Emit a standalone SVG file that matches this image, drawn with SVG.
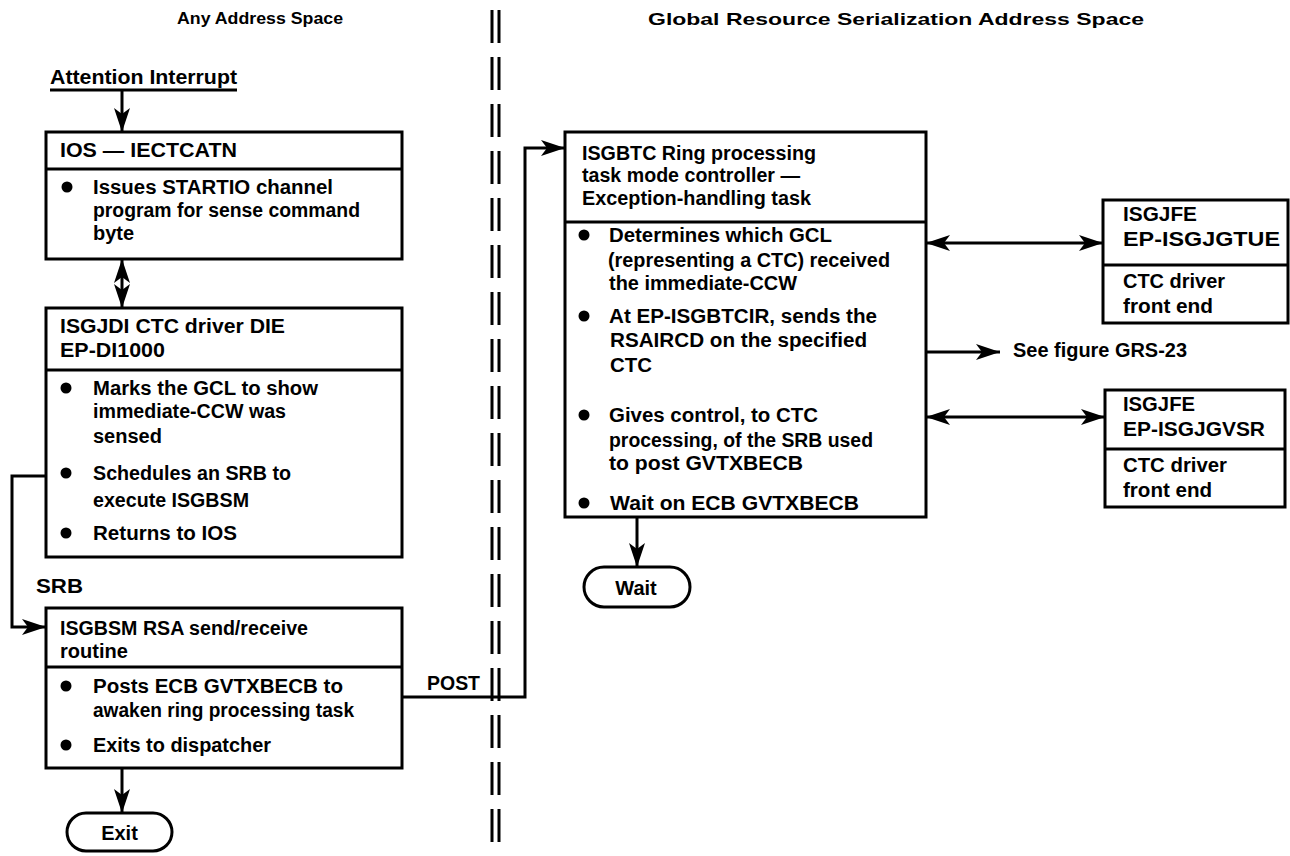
<svg xmlns="http://www.w3.org/2000/svg" width="1290" height="856" viewBox="0 0 1290 856">
  <style>
    text { font-family: "Liberation Sans", Arial, sans-serif; font-weight: bold; fill: #000; }
    .t { font-size: 20px; }
    .title { font-size: 17px; }
    .box { fill: #fff; stroke: #000; stroke-width: 3; }
    .rule { stroke: #000; stroke-width: 3; }
    .line { fill: none; stroke: #000; stroke-width: 3; }
    .dash { stroke: #000; stroke-width: 3; stroke-dasharray: 33 14; }
    .dot { fill: #000; }
  </style>
  <defs>
    <marker id="arrow" markerUnits="userSpaceOnUse" markerWidth="26" markerHeight="18" refX="24" refY="8" orient="auto-start-reverse">
      <path d="M0,0 L24,8 L0,16 L6,8 Z" fill="#000"/>
    </marker>
  </defs>

  <rect width="1290" height="856" fill="#fff"/>

  <!-- column headings and the address-space boundary -->
  <g id="headings">
    <text class="title" x="177" y="24" textLength="166" lengthAdjust="spacingAndGlyphs">Any Address Space</text>
    <text class="title" x="648" y="25" textLength="496" lengthAdjust="spacingAndGlyphs">Global Resource Serialization Address Space</text>
  </g>
  <g id="boundary">
    <line class="dash" x1="492" y1="10" x2="492" y2="852"/>
    <line class="dash" x1="499" y1="10" x2="499" y2="852"/>
  </g>

  <!-- connectors -->
  <g id="connectors">
    <line class="line" x1="50" y1="90" x2="237" y2="90"/>
    <line class="line" x1="122" y1="90" x2="122" y2="132" marker-end="url(#arrow)"/>
    <line class="line" x1="122" y1="259" x2="122" y2="308" marker-start="url(#arrow)" marker-end="url(#arrow)"/>
    <path class="line" d="M46,476 H12 V627 H46" marker-end="url(#arrow)"/>
    <line class="line" x1="122" y1="768" x2="122" y2="813" marker-end="url(#arrow)"/>
    <path class="line" d="M402,697 H525 V148 H565" marker-end="url(#arrow)"/>
    <line class="line" x1="637" y1="517" x2="637" y2="567" marker-end="url(#arrow)"/>
    <line class="line" x1="926" y1="243" x2="1103" y2="243" marker-start="url(#arrow)" marker-end="url(#arrow)"/>
    <line class="line" x1="926" y1="352" x2="1000" y2="352" marker-end="url(#arrow)"/>
    <line class="line" x1="926" y1="417" x2="1105" y2="417" marker-start="url(#arrow)" marker-end="url(#arrow)"/>
  </g>

  <!-- connector labels -->
  <g id="labels">
    <text class="t" x="50" y="84" textLength="187" lengthAdjust="spacingAndGlyphs">Attention Interrupt</text>
    <text class="t" x="36" y="593" textLength="47" lengthAdjust="spacingAndGlyphs">SRB</text>
    <text class="t" x="427" y="690" textLength="53" lengthAdjust="spacingAndGlyphs">POST</text>
    <text class="t" x="1013" y="357" textLength="174" lengthAdjust="spacingAndGlyphs">See figure GRS-23</text>
  </g>

  <!-- IOS attention handler -->
  <g id="ios">
    <rect class="box" x="46" y="132" width="356" height="127"/>
    <line class="rule" x1="46" y1="169" x2="402" y2="169"/>
    <text class="t" x="60" y="157" textLength="177" lengthAdjust="spacingAndGlyphs">IOS — IECTCATN</text>
    <circle class="dot" cx="67" cy="187" r="5.5"/>
    <text class="t" x="93" y="194" textLength="240" lengthAdjust="spacingAndGlyphs">Issues STARTIO channel</text>
    <text class="t" x="93" y="217" textLength="267" lengthAdjust="spacingAndGlyphs">program for sense command</text>
    <text class="t" x="93" y="240">byte</text>
  </g>

  <!-- CTC driver DIE -->
  <g id="isgjdi">
    <rect class="box" x="46" y="308" width="356" height="249"/>
    <line class="rule" x1="46" y1="370" x2="402" y2="370"/>
    <text class="t" x="60" y="333" textLength="225" lengthAdjust="spacingAndGlyphs">ISGJDI CTC driver DIE</text>
    <text class="t" x="60" y="357" textLength="105" lengthAdjust="spacingAndGlyphs">EP-DI1000</text>
    <circle class="dot" cx="66" cy="388" r="5.5"/>
    <text class="t" x="93" y="395" textLength="225" lengthAdjust="spacingAndGlyphs">Marks the GCL to show</text>
    <text class="t" x="93" y="418" textLength="193" lengthAdjust="spacingAndGlyphs">immediate-CCW was</text>
    <text class="t" x="93" y="443">sensed</text>
    <circle class="dot" cx="66" cy="473" r="5.5"/>
    <text class="t" x="93" y="480" textLength="198" lengthAdjust="spacingAndGlyphs">Schedules an SRB to</text>
    <text class="t" x="93" y="507" textLength="156" lengthAdjust="spacingAndGlyphs">execute ISGBSM</text>
    <circle class="dot" cx="66" cy="533" r="5.5"/>
    <text class="t" x="93" y="540" textLength="144" lengthAdjust="spacingAndGlyphs">Returns to IOS</text>
  </g>

  <!-- RSA send/receive routine -->
  <g id="isgbsm">
    <rect class="box" x="46" y="608" width="356" height="160"/>
    <line class="rule" x1="46" y1="667" x2="402" y2="667"/>
    <text class="t" x="60" y="635" textLength="248" lengthAdjust="spacingAndGlyphs">ISGBSM RSA send/receive</text>
    <text class="t" x="60" y="658">routine</text>
    <circle class="dot" cx="66" cy="686" r="5.5"/>
    <text class="t" x="93" y="693" textLength="250" lengthAdjust="spacingAndGlyphs">Posts ECB GVTXBECB to</text>
    <text class="t" x="93" y="717" textLength="261" lengthAdjust="spacingAndGlyphs">awaken ring processing task</text>
    <circle class="dot" cx="66" cy="745" r="5.5"/>
    <text class="t" x="93" y="752" textLength="178" lengthAdjust="spacingAndGlyphs">Exits to dispatcher</text>
  </g>

  <g id="exit">
    <rect class="box" x="67" y="813" width="105" height="38" rx="19"/>
    <text class="t" x="119.5" y="840" text-anchor="middle">Exit</text>
  </g>

  <!-- ring processing task mode controller -->
  <g id="isgbtc">
    <rect class="box" x="565" y="132" width="361" height="385"/>
    <line class="rule" x1="565" y1="222" x2="926" y2="222"/>
    <text class="t" x="582" y="160" textLength="234" lengthAdjust="spacingAndGlyphs">ISGBTC Ring processing</text>
    <text class="t" x="582" y="182" textLength="218" lengthAdjust="spacingAndGlyphs">task mode controller —</text>
    <text class="t" x="582" y="205" textLength="229" lengthAdjust="spacingAndGlyphs">Exception-handling task</text>
    <circle class="dot" cx="584" cy="235" r="5.5"/>
    <text class="t" x="609" y="242" textLength="223" lengthAdjust="spacingAndGlyphs">Determines which GCL</text>
    <text class="t" x="608" y="267" textLength="282" lengthAdjust="spacingAndGlyphs">(representing a CTC) received</text>
    <text class="t" x="609" y="290" textLength="188" lengthAdjust="spacingAndGlyphs">the immediate-CCW</text>
    <circle class="dot" cx="584" cy="316" r="5.5"/>
    <text class="t" x="609" y="323" textLength="268" lengthAdjust="spacingAndGlyphs">At EP-ISGBTCIR, sends the</text>
    <text class="t" x="610" y="347" textLength="257" lengthAdjust="spacingAndGlyphs">RSAIRCD on the specified</text>
    <text class="t" x="610" y="372" textLength="42" lengthAdjust="spacingAndGlyphs">CTC</text>
    <circle class="dot" cx="584" cy="415" r="5.5"/>
    <text class="t" x="609" y="422" textLength="209" lengthAdjust="spacingAndGlyphs">Gives control, to CTC</text>
    <text class="t" x="609" y="447" textLength="264" lengthAdjust="spacingAndGlyphs">processing, of the SRB used</text>
    <text class="t" x="609" y="470" textLength="194" lengthAdjust="spacingAndGlyphs">to post GVTXBECB</text>
    <circle class="dot" cx="584" cy="503" r="5.5"/>
    <text class="t" x="610" y="510" textLength="249" lengthAdjust="spacingAndGlyphs">Wait on ECB GVTXBECB</text>
  </g>

  <g id="wait">
    <rect class="box" x="584" y="567" width="106" height="40" rx="20"/>
    <text class="t" x="636" y="595" text-anchor="middle">Wait</text>
  </g>

  <!-- CTC driver front end, entry ISGJGTUE -->
  <g id="isgjfe-gtue">
    <rect class="box" x="1103" y="200" width="185" height="123"/>
    <line class="rule" x1="1103" y1="265" x2="1288" y2="265"/>
    <text class="t" x="1123" y="221" textLength="74" lengthAdjust="spacingAndGlyphs">ISGJFE</text>
    <text class="t" x="1123" y="246" textLength="157" lengthAdjust="spacingAndGlyphs">EP-ISGJGTUE</text>
    <text class="t" x="1123" y="288" textLength="102" lengthAdjust="spacingAndGlyphs">CTC driver</text>
    <text class="t" x="1123" y="313" textLength="90" lengthAdjust="spacingAndGlyphs">front end</text>
  </g>

  <!-- CTC driver front end, entry ISGJGVSR -->
  <g id="isgjfe-gvsr">
    <rect class="box" x="1105" y="390" width="180" height="117"/>
    <line class="rule" x1="1105" y1="449" x2="1285" y2="449"/>
    <text class="t" x="1123" y="411" textLength="72" lengthAdjust="spacingAndGlyphs">ISGJFE</text>
    <text class="t" x="1123" y="436" textLength="142" lengthAdjust="spacingAndGlyphs">EP-ISGJGVSR</text>
    <text class="t" x="1123" y="472" textLength="104" lengthAdjust="spacingAndGlyphs">CTC driver</text>
    <text class="t" x="1123" y="497" textLength="89" lengthAdjust="spacingAndGlyphs">front end</text>
  </g>
</svg>
